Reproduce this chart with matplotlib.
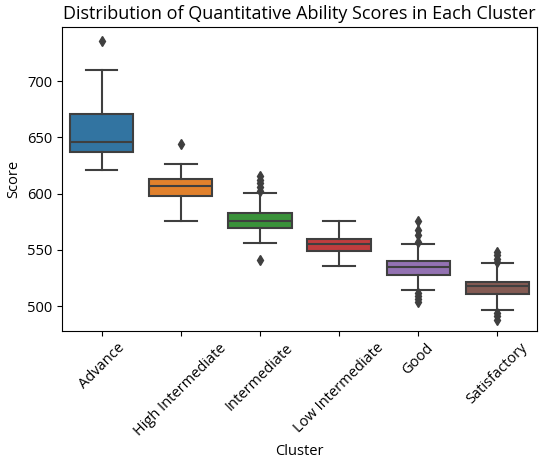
import matplotlib
matplotlib.use("Agg")
import matplotlib.pyplot as plt

plt.rcParams["font.family"] = ["Open Sans", "DejaVu Sans"]

clusters = ["Advance", "High Intermediate", "Intermediate",
            "Low Intermediate", "Good", "Satisfactory"]
whislo = [621, 575.5, 556, 535.5, 514, 496.5]
q1 = [637, 598, 569, 549, 528, 510.5]
med = [646, 606.5, 575.5, 555, 534.5, 517.5]
q3 = [670.5, 613, 582.5, 560, 540, 521]
whishi = [710, 626, 600.5, 575.5, 555, 538]
fliers = [
    [735.5],
    [644],
    [615.5, 612, 609, 605.5, 602.5, 541],
    [],
    [575.5, 568, 563, 557, 511.5, 509, 506.5, 504],
    [548.5, 545.5, 542, 539.5, 494, 491, 488],
]
colors = ["#3274a1", "#e1812c", "#3a923a", "#c03d3e", "#9372b2", "#845b53"]

stats = []
for i, name in enumerate(clusters):
    stats.append({
        "label": name, "whislo": whislo[i], "q1": q1[i], "med": med[i],
        "q3": q3[i], "whishi": whishi[i], "fliers": fliers[i],
    })

fig = plt.figure(figsize=(5.44, 4.66), dpi=100)
ax = fig.add_axes([0.114, 0.29, 0.873, 0.652])

line_c = "#3f3f3f"
bp = ax.bxp(
    stats,
    positions=range(len(clusters)),
    widths=0.8,
    patch_artist=True,
    boxprops=dict(edgecolor=line_c, linewidth=1.5),
    medianprops=dict(color=line_c, linewidth=1.5),
    whiskerprops=dict(color=line_c, linewidth=1.5),
    capprops=dict(color=line_c, linewidth=1.5),
    flierprops=dict(marker="d", markerfacecolor=line_c,
                    markeredgecolor=line_c, markersize=5),
)
for patch, c in zip(bp["boxes"], colors):
    patch.set_facecolor(c)

ax.set_xlim(-0.5, len(clusters) - 0.5)
ax.set_ylim(478, 748)
ax.set_yticks([500, 550, 600, 650, 700])
ax.set_xticks(range(len(clusters)))
ax.set_xticklabels(clusters, rotation=45, ha="center")
ax.tick_params(labelsize=10.5)
ax.set_title("Distribution of Quantitative Ability Scores in Each Cluster",
             fontsize=13)
ax.set_xlabel("Cluster", fontsize=10.5)
ax.set_ylabel("Score", fontsize=10.5)

fig.savefig("out.png", dpi=100)
